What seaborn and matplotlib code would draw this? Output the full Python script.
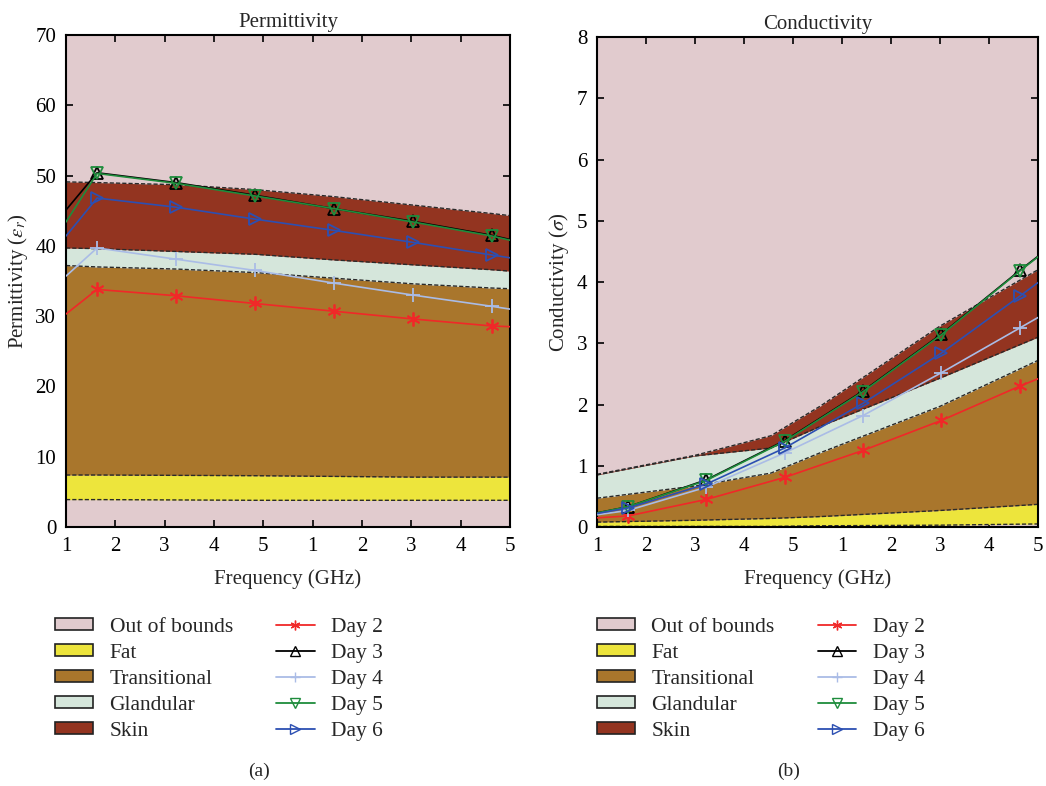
import matplotlib
matplotlib.use('Agg')
import matplotlib.pyplot as plt
from matplotlib.patches import Patch
from matplotlib.lines import Line2D
import pandas as pd
import seaborn as sns

# frequency grid for the measured points (edges + 6 markers)
freq = [1.0, 1.63, 3.23, 4.83, 6.43, 8.03, 9.63, 10.0]
tick_pos = [1, 2, 3, 4, 5, 6, 7, 8, 9, 10]
tick_labels = ['1', '2', '3', '4', '5', '1', '2', '3', '4', '5']

# permittivity tissue bands
perm_band_x = [1.0, 1.63, 3.23, 4.83, 6.43, 8.03, 9.63, 10.0]
perm_fat_lo = [3.9, 3.9, 3.85, 3.8, 3.8, 3.8, 3.8, 3.8]
perm_fat_hi = [7.4, 7.4, 7.35, 7.3, 7.2, 7.1, 7.1, 7.1]
perm_trans_hi = [37.2, 37.0, 36.7, 36.2, 35.4, 34.6, 34.0, 33.9]
perm_gland_hi = [39.7, 39.6, 39.2, 38.8, 38.0, 37.3, 36.6, 36.4]
perm_skin_hi = [49.1, 49.0, 48.7, 48.0, 47.0, 45.8, 44.6, 44.3]

# permittivity measurements
perm_day2 = [30.3, 33.8, 32.9, 31.8, 30.7, 29.6, 28.6, 28.5]
perm_day3 = [45.1, 50.4, 49.0, 47.2, 45.3, 43.5, 41.5, 40.9]
perm_day4 = [35.7, 39.7, 38.1, 36.5, 34.7, 33.0, 31.4, 31.0]
perm_day5 = [43.4, 50.3, 48.9, 47.1, 45.3, 43.4, 41.4, 40.8]
perm_day6 = [41.4, 46.8, 45.5, 43.8, 42.2, 40.5, 38.7, 38.3]

# conductivity tissue bands
cond_band_x = [1.0, 3.0, 4.55, 5.55, 8.0, 10.0]
cond_fat_lo = [0.01, 0.01, 0.01, 0.02, 0.03, 0.05]
cond_fat_hi = [0.08, 0.11, 0.14, 0.17, 0.27, 0.37]
cond_trans_hi = [0.47, 0.67, 0.88, 1.21, 1.97, 2.72]
cond_gland_hi = [0.85, 1.16, 1.29, 1.64, 2.43, 3.10]
cond_skin_hi = [0.86, 1.17, 1.49, 1.97, 3.28, 4.20]

# conductivity measurements
cond_day2 = [0.15, 0.18, 0.45, 0.81, 1.25, 1.74, 2.30, 2.42]
cond_day3 = [0.23, 0.33, 0.77, 1.41, 2.22, 3.15, 4.19, 4.42]
cond_day4 = [0.20, 0.27, 0.65, 1.21, 1.82, 2.52, 3.25, 3.42]
cond_day5 = [0.23, 0.33, 0.76, 1.40, 2.21, 3.14, 4.18, 4.41]
cond_day6 = [0.22, 0.31, 0.70, 1.29, 2.02, 2.84, 3.77, 3.99]

band_names = ['Out of bounds', 'Fat', 'Transitional', 'Glandular', 'Skin']
band_colors = ['#E1CBCE', '#EDE53C', '#A9762C', '#D5E6DB', '#933420']
day_names = ['Day 2', 'Day 3', 'Day 4', 'Day 5', 'Day 6']
day_colors = ['#F02828', '#000000', '#AABCE6', '#1E8C3C', '#2C4FB2']
day_markers = [(6, 2, 0), '^', '+', 'v', '>']
open_marker = [False, True, False, True, True]

sns.set_style('ticks')
plt.rcParams['font.family'] = ['Liberation Serif', 'DejaVu Serif']
plt.rcParams['mathtext.fontset'] = 'stix'

FS = 15


def draw_panel(ax, bx, lo, fat, trans, gland, skin, days, ymax, title, ylabel):
    ax.set_facecolor(band_colors[0])
    layers = [lo, fat, trans, gland, skin]
    for i in range(4):
        ax.fill_between(bx, layers[i], layers[i + 1], color=band_colors[i + 1], lw=0, zorder=1)
    for layer in layers:
        ax.plot(bx, layer, color='#2a2a2a', lw=1.0, ls=(0, (3, 1.5)), zorder=2)

    for vals, col, mk, op in zip(days, day_colors, day_markers, open_marker):
        df = pd.DataFrame({'freq': freq, 'val': vals})
        sns.lineplot(data=df, x='freq', y='val', ax=ax, color=col, lw=1.2,
                     marker=mk, markersize=9 if op else 10,
                     markevery=list(range(1, len(freq) - 1)),
                     markerfacecolor='none' if op else col,
                     markeredgecolor=col, markeredgewidth=1.3, zorder=3, legend=False)

    ax.set_xlim(1, 10)
    ax.set_ylim(0, ymax)
    ax.set_xticks(tick_pos)
    ax.set_xticklabels(tick_labels)
    ax.tick_params(direction='in', length=5, width=1.2, top=True, right=True,
                   labelsize=FS, colors='black', pad=7)
    for s in ax.spines.values():
        s.set_linewidth(1.5)
        s.set_color('black')
    ax.set_xlabel('Frequency (GHz)', fontsize=FS, labelpad=10)
    ax.set_ylabel(ylabel, fontsize=FS, labelpad=4)
    ax.set_title(title, fontsize=FS, pad=6)


fig = plt.figure(figsize=(10.46, 7.86), dpi=100)
ax1 = fig.add_axes([0.0631, 0.3295, 0.4245, 0.626])
ax2 = fig.add_axes([0.5707, 0.3295, 0.4216, 0.6234])

draw_panel(ax1, perm_band_x, perm_fat_lo, perm_fat_hi, perm_trans_hi, perm_gland_hi, perm_skin_hi,
           [perm_day2, perm_day3, perm_day4, perm_day5, perm_day6], 70, 'Permittivity',
           r'Permittivity ($\varepsilon_r$)')
ax1.set_yticks(range(0, 71, 10))
draw_panel(ax2, cond_band_x, cond_fat_lo, cond_fat_hi, cond_trans_hi, cond_gland_hi, cond_skin_hi,
           [cond_day2, cond_day3, cond_day4, cond_day5, cond_day6], 8, 'Conductivity',
           r'Conductivity ($\sigma$)')
ax2.set_yticks(range(0, 9))

handles = [Patch(facecolor=c, edgecolor='#222222', lw=1.2) for c in band_colors]
for col, mk, op in zip(day_colors, day_markers, open_marker):
    handles.append(Line2D([], [], color=col, lw=1.3, marker=mk, markersize=7,
                          markerfacecolor='none' if op else col,
                          markeredgecolor=col))
labels = band_names + day_names

for xa in [0.042, 0.560]:
    fig.legend(handles, labels, ncol=2, loc='upper left', bbox_to_anchor=(xa, 0.2275),
               frameon=False, fontsize=FS + 0.5, handlelength=1.8, handleheight=0.5,
               labelspacing=0.32, columnspacing=2.0, handletextpad=0.75, borderpad=0)

fig.text(0.2475, 0.013, '(a)', ha='center', fontsize=14)
fig.text(0.754, 0.013, '(b)', ha='center', fontsize=14)

fig.savefig('out.png', dpi=100)
